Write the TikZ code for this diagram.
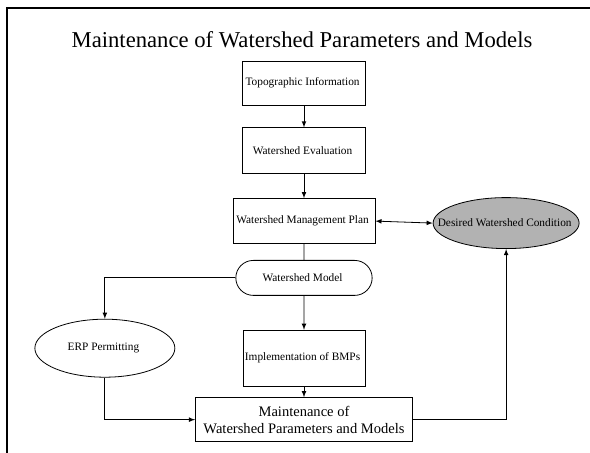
\documentclass[tikz,border=0pt]{standalone}
\usepackage{fontspec}
\setmainfont{Liberation Serif}
\usetikzlibrary{matrix,arrows,positioning,calc,shapes.geometric,shapes.misc}

\tikzset{
  box/.style={draw, rectangle, line width=0.6pt, inner sep=1pt, align=center,
    font=\fontsize{8.5}{10}\selectfont},
  oval/.style={box, ellipse},
  pill/.style={box, rounded rectangle},
  goal/.style={oval, fill=black!30},
}

\begin{document}
\begin{tikzpicture}[x=0.75pt, y=-0.75pt, >=latex, line width=0.6pt]
  \matrix (m) [matrix of nodes, column sep=43pt, nodes={anchor=center}]
  {
    & |[box, minimum width=92.25pt, minimum height=33pt]| Topographic Information & \\[16.5pt]
    & |[box, minimum width=92.25pt, minimum height=34.5pt]| Watershed Evaluation & \\[17.25pt]
    & |[box, minimum width=106.5pt, minimum height=33.75pt]| Watershed Management Plan
    & |[goal, yshift=-1.5pt, minimum width=109.5pt, minimum height=38.25pt]| \makebox[0pt]{Desired Watershed Condition} \\[8.25pt]
    & |[pill, minimum width=104.25pt, minimum height=26.25pt]| Watershed Model & \\[17.25pt]
    |[oval, yshift=7.5pt, minimum width=105pt, minimum height=43.5pt]| ERP Permitting
    & |[box, minimum width=91.5pt, minimum height=42pt]| Implementation of BMPs & \\
  };
  \node[box, minimum width=162.75pt, minimum height=33pt, font=\fontsize{10.9}{12.75}\selectfont]
    (maint) [below=8pt of m-5-2] {Maintenance of\\Watershed Parameters and Models};

  % page corner and frame
  \coordinate (o) at ($(m-1-2.center)+(-304,-83)$);
  \useasboundingbox (o) rectangle ($(o)+(590,453)$);
  \draw[line width=1.4pt] ($(o)+(7,453)$) -- ($(o)+(7,8)$) -- ($(o)+(590,8)$);
  \node[font=\fontsize{17}{20}\selectfont] (title) at ($(o)+(302,39.5)$)
    {Maintenance of Watershed Parameters and Models};

  \path[->]
  (m-1-2) edge (m-2-2)
  (m-2-2) edge (m-3-2)
  (m-3-2.east) edge[<->] (m-3-3.west)
  (m-4-2) edge (m-5-2)
  (m-5-2) edge (maint)
  ;
  \draw (m-3-2) -- (m-4-2);
  \draw[->] (m-4-2.west) -| (m-5-1.north);
  \draw[->] (m-5-1.south) |- (maint.west);
  \draw[->] (maint.east) -| (m-3-3.south);
\end{tikzpicture}
\end{document}
